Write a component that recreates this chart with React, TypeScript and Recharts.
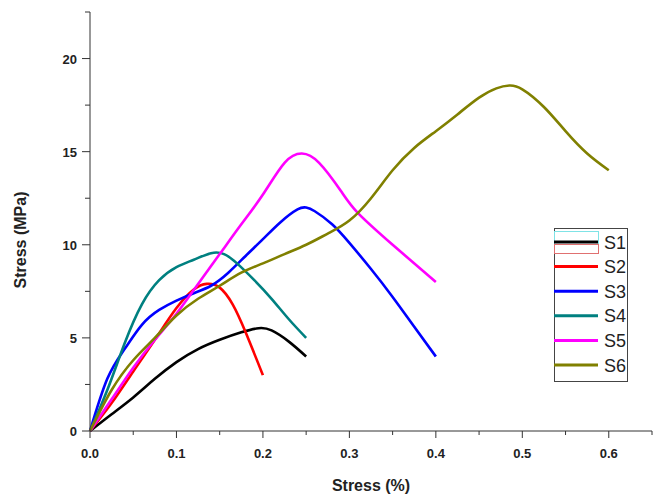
import React from 'react';
import { LineChart, Line, XAxis, YAxis } from 'recharts';

type Pt = { x: number; y: number };

// strain (x) / stress (y) pairs
const s1: Pt[] = [
  { x: 0, y: 0 }, { x: 0.025, y: 0.9 }, { x: 0.05, y: 1.8 }, { x: 0.075, y: 2.8 },
  { x: 0.1, y: 3.7 }, { x: 0.125, y: 4.4 }, { x: 0.15, y: 4.9 }, { x: 0.175, y: 5.3 },
  { x: 0.195, y: 5.52 }, { x: 0.21, y: 5.4 }, { x: 0.23, y: 4.8 }, { x: 0.25, y: 4.0 },
];
const s2: Pt[] = [
  { x: 0, y: 0 }, { x: 0.025, y: 1.5 }, { x: 0.05, y: 3.2 }, { x: 0.075, y: 4.9 },
  { x: 0.1, y: 6.6 }, { x: 0.12, y: 7.6 }, { x: 0.135, y: 7.9 }, { x: 0.15, y: 7.7 },
  { x: 0.165, y: 6.8 }, { x: 0.18, y: 5.3 }, { x: 0.2, y: 3.0 },
];
const s3: Pt[] = [
  { x: 0, y: 0 }, { x: 0.02, y: 2.8 }, { x: 0.04, y: 4.4 }, { x: 0.06, y: 5.7 },
  { x: 0.08, y: 6.5 }, { x: 0.1, y: 7.0 }, { x: 0.12, y: 7.4 }, { x: 0.14, y: 7.8 },
  { x: 0.16, y: 8.5 }, { x: 0.18, y: 9.4 }, { x: 0.2, y: 10.3 }, { x: 0.22, y: 11.2 },
  { x: 0.24, y: 11.9 }, { x: 0.25, y: 12.0 }, { x: 0.26, y: 11.8 }, { x: 0.28, y: 11.1 },
  { x: 0.3, y: 10.1 }, { x: 0.325, y: 8.7 }, { x: 0.35, y: 7.2 }, { x: 0.375, y: 5.6 },
  { x: 0.4, y: 4.0 },
];
const s4: Pt[] = [
  { x: 0, y: 0 }, { x: 0.02, y: 2.2 }, { x: 0.04, y: 4.7 }, { x: 0.06, y: 6.8 },
  { x: 0.08, y: 8.1 }, { x: 0.1, y: 8.8 }, { x: 0.12, y: 9.2 }, { x: 0.14, y: 9.55 },
  { x: 0.155, y: 9.5 }, { x: 0.17, y: 9.0 }, { x: 0.19, y: 8.1 }, { x: 0.21, y: 7.1 },
  { x: 0.23, y: 6.0 }, { x: 0.25, y: 5.0 },
];
const s5: Pt[] = [
  { x: 0, y: 0 }, { x: 0.025, y: 1.7 }, { x: 0.05, y: 3.4 }, { x: 0.075, y: 4.9 },
  { x: 0.1, y: 6.3 }, { x: 0.125, y: 7.9 }, { x: 0.15, y: 9.5 }, { x: 0.175, y: 11.1 },
  { x: 0.2, y: 12.7 }, { x: 0.225, y: 14.4 }, { x: 0.245, y: 14.9 }, { x: 0.265, y: 14.4 },
  { x: 0.29, y: 12.9 }, { x: 0.31, y: 11.7 }, { x: 0.35, y: 10.0 }, { x: 0.4, y: 8.0 },
];
const s6: Pt[] = [
  { x: 0, y: 0 }, { x: 0.025, y: 2.2 }, { x: 0.05, y: 3.8 }, { x: 0.075, y: 5.0 },
  { x: 0.1, y: 6.2 }, { x: 0.125, y: 7.1 }, { x: 0.15, y: 7.8 }, { x: 0.175, y: 8.5 },
  { x: 0.2, y: 9.0 }, { x: 0.225, y: 9.5 }, { x: 0.25, y: 10.0 }, { x: 0.275, y: 10.6 },
  { x: 0.3, y: 11.3 }, { x: 0.325, y: 12.5 }, { x: 0.35, y: 14.0 }, { x: 0.375, y: 15.2 },
  { x: 0.4, y: 16.1 }, { x: 0.425, y: 17.0 }, { x: 0.45, y: 17.9 }, { x: 0.47, y: 18.4 },
  { x: 0.485, y: 18.55 }, { x: 0.5, y: 18.35 }, { x: 0.525, y: 17.4 }, { x: 0.55, y: 16.1 },
  { x: 0.575, y: 14.9 }, { x: 0.6, y: 14.0 },
];

const seriesNames = ['S1', 'S2', 'S3', 'S4', 'S5', 'S6'];
const seriesData = [s1, s2, s3, s4, s5, s6];
const seriesColors = ['#000000', '#ff0000', '#0000ff', '#008080', '#ff00ff', '#808000'];

const xTicks = [0, 0.05, 0.1, 0.15, 0.2, 0.25, 0.3, 0.35, 0.4, 0.45, 0.5, 0.55, 0.6, 0.65];
const yTicks = [0, 2.5, 5, 7.5, 10, 12.5, 15, 17.5, 20, 22.5];

const AXIS = '#333333';
const FONT = '"Liberation Sans", Arial, sans-serif';

const isMajorX = (v: number) => Math.abs(v * 10 - Math.round(v * 10)) < 1e-6 && v < 0.64;
const isMajorY = (v: number) => v % 5 === 0;

const XTick = ({ x, y, payload }: any) => {
  const major = isMajorX(payload.value);
  return (
    <g>
      <line x1={x} x2={x} y1={y} y2={y + (major ? 7 : 4)} stroke={AXIS} />
      {major && (
        <text x={x} y={y + 27} textAnchor="middle" fontSize={13} fontWeight="bold" fill="#222" fontFamily={FONT}>
          {payload.value.toFixed(1)}
        </text>
      )}
    </g>
  );
};

const YTick = ({ x, y, payload }: any) => {
  const major = isMajorY(payload.value);
  return (
    <g>
      <line x1={x} x2={x - (major ? 8 : 5)} y1={y} y2={y} stroke={AXIS} />
      {major && (
        <text x={x - 13} y={y + 5} textAnchor="end" fontSize={13} fontWeight="bold" fill="#222" fontFamily={FONT}>
          {payload.value}
        </text>
      )}
    </g>
  );
};

// boxed legend at the lower right, with the stray cyan/red frames around S1
const LegendBox = () => (
  <svg width={80} height={160} style={{ position: 'absolute', left: 554, top: 228, overflow: 'visible' }}>
    <rect x={0.5} y={0.5} width={73} height={153} fill="#fff" stroke="#444" />
    <rect x={0.5} y={3.5} width={44} height={13} fill="none" stroke="#7fe3e6" />
    <rect x={0.5} y={16.5} width={44} height={9} fill="none" stroke="#e07070" />
    {seriesNames.map((n, i) => (
      <g key={n}>
        <line x1={0} x2={44} y1={14 + i * 24.6} y2={14 + i * 24.6} stroke={seriesColors[i]} strokeWidth={3} />
        <text x={50} y={20.5 + i * 24.6} fontSize={18} fill="#222" fontFamily={FONT}>{n}</text>
      </g>
    ))}
  </svg>
);

export default function App() {
  return (
    <div style={{ position: 'absolute', left: 0, top: 0, width: 653, height: 496, background: '#fff' }}>
      <LineChart width={653} height={496} margin={{ top: 12, right: 1, left: 0, bottom: 0 }}>
        <XAxis
          type="number"
          dataKey="x"
          domain={[0, 0.65]}
          ticks={xTicks}
          interval={0}
          height={65}
          stroke={AXIS}
          tickLine={false}
          tickSize={0}
          tickMargin={0}
          tick={<XTick />}
          allowDuplicatedCategory={false}
          label={{
            content: () => (
              <text x={371} y={491} textAnchor="middle" fontSize={16} fontWeight="bold" fill="#222" fontFamily={FONT}>
                Stress (%)
              </text>
            ),
          }}
        />
        <YAxis
          type="number"
          dataKey="y"
          domain={[0, 22.5]}
          ticks={yTicks}
          interval={0}
          width={90}
          stroke={AXIS}
          tickLine={false}
          tickSize={0}
          tickMargin={0}
          tick={<YTick />}
          label={{
            content: () => (
              <text
                x={26}
                y={240}
                transform="rotate(-90 26 240)"
                textAnchor="middle"
                fontSize={16}
                fontWeight="bold"
                fill="#222"
                fontFamily={FONT}
              >
                Stress (MPa)
              </text>
            ),
          }}
        />
        {seriesData.map((d, i) => (
          <Line
            key={seriesNames[i]}
            data={d}
            dataKey="y"
            name={seriesNames[i]}
            type="natural"
            stroke={seriesColors[i]}
            strokeWidth={2.6}
            dot={false}
            activeDot={false}
            isAnimationActive={false}
          />
        ))}
      </LineChart>
      <LegendBox />
    </div>
  );
}
